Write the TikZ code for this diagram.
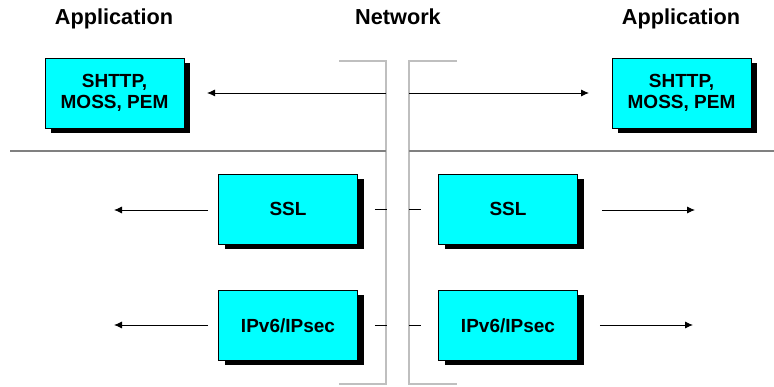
\documentclass[tikz,border=0pt]{standalone}
\usepackage{fontspec}
\setmainfont{Liberation Sans}
\usepackage{xcolor}
\usepackage{tikz}
\usetikzlibrary{arrows.meta,shadows}
\definecolor{protofill}{RGB}{0,255,255}

\begin{document}
\begin{tikzpicture}[
    x=1pt, y=-1pt,
    >={Latex[length=8pt,width=7pt]},
    proto/.style={draw=black, line width=0.8pt, fill=protofill, minimum width=139pt, minimum height=70pt, inner sep=0pt, align=center, font=\fontsize{19}{21}\selectfont\bfseries, drop shadow={fill=black, opacity=1, shadow xshift=6pt, shadow yshift=-5pt}},
    title/.style={anchor=base, font=\fontsize{21.7}{26}\selectfont\bfseries},
    wall/.style={draw=black!25, line width=2pt},
    layer/.style={draw=black!50, line width=2pt},
    flow/.style={->, line width=0.9pt}
]
\useasboundingbox (0,0) rectangle (774,387);

\node[title] (appl) at (114,25) {Application};
\node[title] (net)  at (398,25) {Network};
\node[title] (appr) at (681,25) {Application};

% network walls and layer divider
\draw[wall] (339,61) -- (386,61) -- (386,384) -- (339,384);
\draw[wall] (457,61) -- (409,61) -- (409,384) -- (457,384);
\draw[layer] (10,151) -- (386,151);
\draw[layer] (409,151) -- (774,151);

\node[proto] (shttpl) at (114.5,93) {SHTTP,\\MOSS, PEM};
\node[proto] (shttpr) at (681.5,93) {SHTTP,\\MOSS, PEM};
\node[proto] (ssll)   at (288,209) {SSL};
\node[proto] (sslr)   at (508,209) {SSL};
\node[proto] (ipl)    at (288,325.5) {IPv6/IPsec};
\node[proto] (ipr)    at (508,325.5) {IPv6/IPsec};

\coordinate (wl1) at (386,93);
\coordinate (wr1) at (409,93);
\coordinate (tl1) at (207,93);
\coordinate (tr1) at (589,93);
\coordinate (tl2) at (114,210);
\coordinate (tr2) at (695,210);
\coordinate (tl3) at (114,325);
\coordinate (tr3) at (693,325);

\draw[flow] (wl1) -- (tl1);
\draw[flow] (wr1) -- (tr1);
\draw[flow] (ssll.west |- tl2) ++(-10,0) -- (tl2);
\draw[flow] (sslr.east |- tr2) ++(24,0) -- (tr2);
\draw[flow] (ipl.west |- tl3) ++(-10,0) -- (tl3);
\draw[flow] (ipr.east |- tr3) ++(22,0) -- (tr3);

\draw[line width=0.9pt, dash pattern=on 12pt off 22pt, dash phase=17pt] (ssll) -- (sslr);
\draw[line width=0.9pt, dash pattern=on 12pt off 22pt, dash phase=17pt] (ipl) -- (ipr);
\end{tikzpicture}
\end{document}
